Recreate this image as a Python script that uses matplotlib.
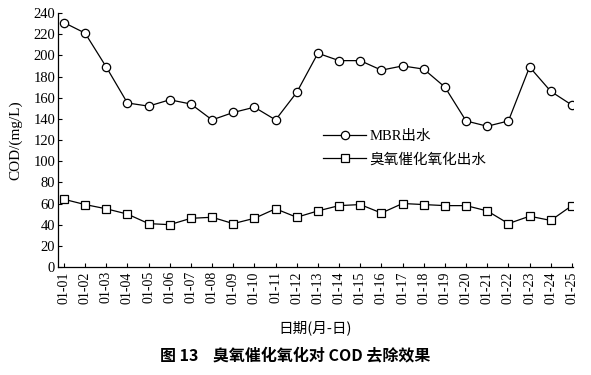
import matplotlib
matplotlib.use("Agg")
import matplotlib.pyplot as plt
import numpy as np

dates = ["01-%02d" % d for d in range(1, 26)]
mbr = [231, 221, 189, 155, 152, 158, 154, 139, 146, 151, 139, 165, 202,
       195, 195, 186, 190, 187, 170, 138, 133, 138, 189, 166, 153]
ozone = [64, 59, 55, 50, 41, 40, 46, 47, 41, 46, 55, 47, 53,
         58, 59, 51, 60, 59, 58, 58, 53, 41, 48, 44, 58]

serif = ["Liberation Serif", "Noto Sans CJK SC"]
cjk = ["Noto Sans CJK SC", "Liberation Serif"]
plt.rcParams["font.family"] = serif

fig = plt.figure(figsize=(5.91, 3.75), dpi=100)
ax = fig.add_axes([0.0981, 0.288, 0.8714, 0.6773])

x = np.arange(len(dates))
ax.plot(x, mbr, color="black", lw=0.9, marker="o", ms=6,
        mfc="white", mec="black", mew=0.9, label="MBR出水")
ax.plot(x, ozone, color="black", lw=0.9, marker="s", ms=6,
        mfc="white", mec="black", mew=0.9, label="臭氧催化氧化出水")

ax.set_xlim(-0.28, 24.05)
ax.set_ylim(0, 240)
ax.set_yticks(np.arange(0, 241, 20))
ax.set_xticks(x)
ax.set_xticklabels(dates, rotation=90, fontsize=10)
ax.tick_params(axis="y", labelsize=10.5, direction="in", length=3, width=0.8, pad=2)
ax.tick_params(axis="x", direction="in", length=3, width=0.8, pad=3)
for s in ["top", "right"]:
    ax.spines[s].set_visible(False)
for s in ["left", "bottom"]:
    ax.spines[s].set_linewidth(0.9)

ax.set_ylabel("COD/(mg/L)", fontsize=11, labelpad=8)
ax.set_xlabel("日期(月-日)", fontsize=10.5, family=cjk, labelpad=12)

leg = ax.legend(loc="upper left", bbox_to_anchor=(0.49, 0.59), frameon=False,
                handlelength=2.9, handletextpad=0.25, labelspacing=0.65,
                prop={"family": serif, "size": 10.5})

fig.text(0.5, 0.052, "图 13    臭氧催化氧化对 COD 去除效果", ha="center", va="center",
         fontsize=11.5, fontweight="bold", family=cjk)

fig.savefig("out.png", dpi=100)
